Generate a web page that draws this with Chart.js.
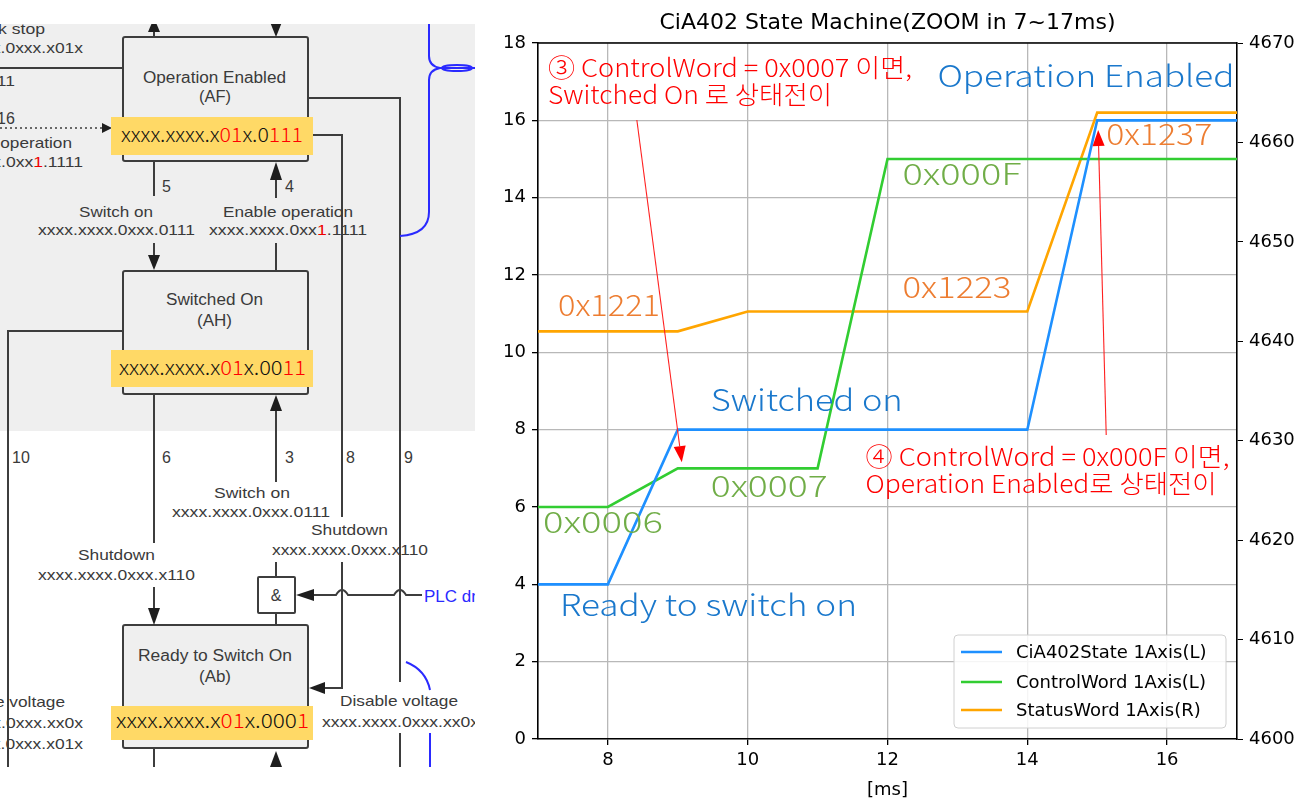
<!DOCTYPE html>
<html><head><meta charset="utf-8">
<script src="https://cdn.jsdelivr.net/npm/chart.js@4.4.1/dist/chart.umd.min.js"></script>
<style>
html,body{margin:0;padding:0;background:#fff;width:1302px;height:807px;overflow:hidden;}
#diagram{position:absolute;left:0;top:0;}
#wrap{position:absolute;left:480px;top:0;width:822px;height:807px;}
</style></head><body>
<svg id="diagram" width="480" height="807" font-family="'Liberation Sans', Arial, sans-serif">
<defs><clipPath id="clp"><rect x="0" y="24" width="475" height="743"/></clipPath></defs>
<g clip-path="url(#clp)">
<rect x="0" y="24" width="475" height="407" fill="#efefef"/>
<g stroke="#3d3d3d" stroke-width="2" fill="none">
 <rect x="123" y="37" width="185" height="124" rx="2"/>
 <rect x="123" y="271" width="185" height="123" rx="2"/>
 <rect x="123" y="625" width="185" height="123" rx="2" fill="#efefef"/>
 <line x1="154" y1="24" x2="154" y2="37"/>
 <line x1="276" y1="24" x2="276" y2="30"/>
 <line x1="0" y1="68" x2="123" y2="68"/>
 <line x1="154" y1="161" x2="154" y2="196"/>
 <line x1="154" y1="243" x2="154" y2="258"/>
 <line x1="276" y1="178" x2="276" y2="198"/>
 <line x1="276" y1="243" x2="276" y2="271"/>
 <polyline points="308,98 400,98 400,682"/>
 <line x1="400" y1="733" x2="400" y2="767"/>
 <polyline points="313,135 342,135 342,517"/>
 <polyline points="342,562 342,688 322,688"/>
 <polyline points="123,331 8,331 8,767"/>
 <line x1="154" y1="394" x2="154" y2="543"/>
 <line x1="154" y1="587" x2="154" y2="610"/>
 <line x1="276" y1="408" x2="276" y2="482"/>
 <line x1="276" y1="562" x2="276" y2="577"/>
 <rect x="258" y="577" width="37" height="36" rx="1"/>
 <line x1="276" y1="613" x2="276" y2="625"/>
 <path d="M312 595 H336 Q342 585 348 595 H394 Q400 585 406 595 H422"/>
 <line x1="154" y1="748" x2="154" y2="767"/>
 <line x1="0" y1="128" x2="102" y2="128" stroke-dasharray="2 3" stroke-width="1.5"/>
</g>
<g fill="#1e1e1e">
 <polygon points="154,18 148,32 160,32"/>
 <polygon points="270,22 282,22 276,37"/>
 <polygon points="276,162 270,180 282,180"/>
 <polygon points="148,255 160,255 154,270"/>
 <polygon points="148,608 160,608 154,625"/>
 <polygon points="276,395 270,411 282,411"/>
 <polygon points="296,595 314,589 314,601"/>
 <polygon points="309,688 325,682 325,694"/>
 <polygon points="276,751 270,767 282,767"/>
 <polygon points="112,128 102,123 102,133"/>
</g>
<g stroke="#2a2aff" stroke-width="2" fill="none">
 <path d="M429 24 V56 Q429 66 440 68 Q429 70 429 80 V212 Q429 234 400 236"/>
 <ellipse cx="457" cy="68" rx="15" ry="3"/>
 <line x1="440" y1="68" x2="475" y2="68"/>
 <path d="M406 662 Q426 670 430 690"/>
 <line x1="430" y1="733" x2="430" y2="767"/>
</g>
<g fill="#3a3a3a" font-size="15">
 <text x="-2" y="34" textLength="47" lengthAdjust="spacingAndGlyphs">k stop</text>
 <text x="-74" y="53" textLength="157" lengthAdjust="spacingAndGlyphs">xxxx.xxxx.0xxx.x01x</text>
 <text x="-142" y="86" textLength="157" lengthAdjust="spacingAndGlyphs">xxxx.xxxx.0xxx.0111</text>
 <text x="-3" y="124" font-size="16">16</text>
 <text x="-58" y="148" textLength="130" lengthAdjust="spacingAndGlyphs">Enable operation</text>
 <text x="-74" y="167" textLength="157" lengthAdjust="spacingAndGlyphs">xxxx.xxxx.0xx<tspan fill="#e00">1</tspan>.1111</text>
 <text x="79" y="217" textLength="74" lengthAdjust="spacingAndGlyphs">Switch on</text>
 <text x="38" y="235" textLength="157" lengthAdjust="spacingAndGlyphs">xxxx.xxxx.0xxx.0111</text>
 <text x="223" y="217" textLength="130" lengthAdjust="spacingAndGlyphs">Enable operation</text>
 <text x="209" y="235" textLength="158" lengthAdjust="spacingAndGlyphs">xxxx.xxxx.0xx<tspan fill="#e00">1</tspan>.1111</text>
 <text x="162" y="192" font-size="16">5</text>
 <text x="285" y="192" font-size="16">4</text>
 <text x="12" y="463" font-size="16">10</text>
 <text x="162" y="463" font-size="16">6</text>
 <text x="285" y="463" font-size="16">3</text>
 <text x="346" y="463" font-size="16">8</text>
 <text x="404" y="463" font-size="16">9</text>
 <text x="214" y="498" textLength="76" lengthAdjust="spacingAndGlyphs">Switch on</text>
 <text x="172" y="517" textLength="158" lengthAdjust="spacingAndGlyphs">xxxx.xxxx.0xxx.0111</text>
 <text x="78" y="560" textLength="77" lengthAdjust="spacingAndGlyphs">Shutdown</text>
 <text x="38" y="580" textLength="157" lengthAdjust="spacingAndGlyphs">xxxx.xxxx.0xxx.x110</text>
 <text x="311" y="535" textLength="77" lengthAdjust="spacingAndGlyphs">Shutdown</text>
 <text x="272" y="555" textLength="156" lengthAdjust="spacingAndGlyphs">xxxx.xxxx.0xxx.x110</text>
 <text x="276" y="601" text-anchor="middle" font-size="16">&amp;</text>
 <text x="-53" y="707" textLength="118" lengthAdjust="spacingAndGlyphs">Disable voltage</text>
 <text x="-74" y="728" textLength="157" lengthAdjust="spacingAndGlyphs">xxxx.xxxx.0xxx.xx0x</text>
 <text x="-74" y="749" textLength="157" lengthAdjust="spacingAndGlyphs">xxxx.xxxx.0xxx.x01x</text>
 <text x="340" y="706" textLength="118" lengthAdjust="spacingAndGlyphs">Disable voltage</text>
 <text x="322" y="727" textLength="157" lengthAdjust="spacingAndGlyphs">xxxx.xxxx.0xxx.xx0x</text>
 <text x="143" y="83" font-size="16" textLength="143" lengthAdjust="spacingAndGlyphs">Operation Enabled</text>
 <text x="199" y="102" font-size="16" textLength="32" lengthAdjust="spacingAndGlyphs">(AF)</text>
 <text x="166" y="305" font-size="16" textLength="97" lengthAdjust="spacingAndGlyphs">Switched On</text>
 <text x="197" y="326" font-size="16" textLength="35" lengthAdjust="spacingAndGlyphs">(AH)</text>
 <text x="138" y="661" font-size="16" textLength="154" lengthAdjust="spacingAndGlyphs">Ready to Switch On</text>
 <text x="199" y="682" font-size="16" textLength="32" lengthAdjust="spacingAndGlyphs">(Ab)</text>
</g>
<text x="424" y="602" fill="#2a2aff" font-size="17">PLC dr</text>
<g>
 <rect x="111" y="117" width="202" height="38" fill="#FFD966"/>
 <rect x="111" y="350" width="202" height="37" fill="#FFD966"/>
 <rect x="111" y="706" width="202" height="34" fill="#FFD966"/>
</g>
<g font-family="'Noto Sans CJK KR', 'Noto Sans', sans-serif" font-weight="300" font-size="20" fill="#111">
 <text x="121" y="142" textLength="182" lengthAdjust="spacingAndGlyphs">xxxx.xxxx.x<tspan fill="#f00">01</tspan>x.0<tspan fill="#f00">111</tspan></text>
 <text x="119" y="375" textLength="187" lengthAdjust="spacingAndGlyphs">xxxx.xxxx.x<tspan fill="#f00">01</tspan>x.00<tspan fill="#f00">11</tspan></text>
 <text x="116" y="728" textLength="193" lengthAdjust="spacingAndGlyphs">xxxx.xxxx.x<tspan fill="#f00">01</tspan>x.000<tspan fill="#f00">1</tspan></text>
</g>
</g>
</svg>
<div id="wrap"><canvas id="c" width="822" height="807"></canvas></div>
<script>
// ---- data ----
const timesMs = [7, 8, 9, 10, 11, 12, 13, 14, 15, 16, 17];
const cia402State = [4, 4, 8, 8, 8, 8, 8, 8, 16, 16, 16];
const controlWord = [6, 6, 7, 7, 7, 15, 15, 15, 15, 15, 15];
const statusWord = [4641, 4641, 4641, 4643, 4643, 4643, 4643, 4643, 4663, 4663, 4663];
const seriesLabels = ['CiA402State 1Axis(L)', 'ControlWord 1Axis(L)', 'StatusWord 1Axis(R)'];
const xTicks = [8, 10, 12, 14, 16];
const yLeftTicks = [0, 2, 4, 6, 8, 10, 12, 14, 16, 18];
const yRightTicks = [4600, 4610, 4620, 4630, 4640, 4650, 4660, 4670];
const titleText = 'CiA402 State Machine(ZOOM in 7~17ms)';
const xLabel = '[ms]';

// ---- text annotations (data coordinates on x / left y) ----
const notes = [
  {text: '③ ControlWord = 0x0007 이면,', x: 7.143, y: 17.12, w: 364, size: 25, color: '#ff0000'},
  {text: 'Switched On 로 상태전이', x: 7.143, y: 16.42, w: 284, size: 25, color: '#ff0000'},
  {text: 'Operation Enabled', x: 12.714, y: 16.86, w: 297, size: 30, color: '#1a78cc'},
  {text: '0x1237', x: 15.129, y: 15.36, w: 106, size: 30, color: '#ED7D31'},
  {text: '0x000F', x: 12.214, y: 14.33, w: 119, size: 30, color: '#70AD47'},
  {text: '0x1223', x: 12.214, y: 11.40, w: 109, size: 30, color: '#ED7D31'},
  {text: '0x1221', x: 7.286, y: 10.94, w: 102, size: 30, color: '#ED7D31'},
  {text: 'Switched on', x: 9.471, y: 8.48, w: 192, size: 30, color: '#1a78cc'},
  {text: '④ ControlWord = 0x000F 이면,', x: 11.686, y: 7.06, w: 364, size: 25, color: '#ff0000'},
  {text: 'Operation Enabled로 상태전이', x: 11.686, y: 6.36, w: 351, size: 25, color: '#ff0000'},
  {text: '0x0007', x: 9.471, y: 6.26, w: 117, size: 30, color: '#70AD47'},
  {text: '0x0006', x: 7.071, y: 5.33, w: 120, size: 30, color: '#70AD47'},
  {text: 'Ready to switch on', x: 7.314, y: 3.18, w: 297, size: 30, color: '#1a78cc'}
];
const arrows = [
  {from: [8.414, 16.01], to: [9.057, 7.16]},
  {from: [15.129, 7.86], to: [15.014, 15.75]}
];

const colors = ['#1E90FF', '#32CD32', '#FFA500'];
const FONT = "'DejaVu Sans'";

function fitText(ctx, t, x, y, w, font, color) {
  ctx.save();
  ctx.font = font;
  const nat = ctx.measureText(t).width;
  ctx.translate(x, y);
  ctx.scale(w / nat, 1);
  ctx.fillStyle = color;
  ctx.textAlign = 'left';
  ctx.textBaseline = 'alphabetic';
  ctx.fillText(t, 0, 0);
  ctx.restore();
}

const extras = {
  id: 'extras',
  afterDraw(chart) {
    const ctx = chart.ctx, a = chart.chartArea, xs = chart.scales.x, ys = chart.scales.y;
    ctx.save();
    ctx.strokeStyle = '#000'; ctx.lineWidth = 1.6;
    ctx.beginPath(); ctx.moveTo(a.left, a.top); ctx.lineTo(a.right, a.top); ctx.stroke();
    ctx.fillStyle = '#000'; ctx.font = '22px ' + FONT; ctx.textAlign = 'center'; ctx.textBaseline = 'alphabetic';
    ctx.fillText(titleText, (a.left + a.right) / 2, 29);
    notes.forEach(n => fitText(ctx, n.text, xs.getPixelForValue(n.x), ys.getPixelForValue(n.y), n.w,
      '300 ' + n.size + "px 'Noto Sans CJK KR'", n.color));
    arrows.forEach(ar => {
      const x1 = xs.getPixelForValue(ar.from[0]), y1 = ys.getPixelForValue(ar.from[1]);
      const x2 = xs.getPixelForValue(ar.to[0]), y2 = ys.getPixelForValue(ar.to[1]);
      const ang = Math.atan2(y2 - y1, x2 - x1), hl = 16, hw = 6;
      ctx.strokeStyle = '#ff2020'; ctx.fillStyle = '#ff0000'; ctx.lineWidth = 1.1;
      ctx.beginPath(); ctx.moveTo(x1, y1);
      ctx.lineTo(x2 - hl * Math.cos(ang), y2 - hl * Math.sin(ang)); ctx.stroke();
      ctx.beginPath(); ctx.moveTo(x2, y2);
      ctx.lineTo(x2 - hl * Math.cos(ang) - hw * Math.sin(ang), y2 - hl * Math.sin(ang) + hw * Math.cos(ang));
      ctx.lineTo(x2 - hl * Math.cos(ang) + hw * Math.sin(ang), y2 - hl * Math.sin(ang) - hw * Math.cos(ang));
      ctx.closePath(); ctx.fill();
    });
    const lx = a.right - 283, ly = a.bottom - 104, lw = 272, lh = 93;
    ctx.fillStyle = 'rgba(255,255,255,0.85)'; ctx.strokeStyle = '#d0d0d0'; ctx.lineWidth = 1;
    ctx.beginPath(); ctx.roundRect(lx, ly, lw, lh, 4); ctx.fill(); ctx.stroke();
    ctx.font = '18px ' + FONT; ctx.textAlign = 'left'; ctx.textBaseline = 'middle';
    const rows = [17, 47, 75];
    chart.data.datasets.forEach((d, i) => {
      const yy = ly + rows[i];
      ctx.strokeStyle = d.borderColor; ctx.lineWidth = 2.6;
      ctx.beginPath(); ctx.moveTo(lx + 7, yy); ctx.lineTo(lx + 48, yy); ctx.stroke();
      ctx.fillStyle = '#000'; ctx.fillText(d.label, lx + 62, yy + 1);
    });
    ctx.restore();
  }
};

const tickFont = {family: FONT, size: 18};
const plain = v => String(v);
new Chart(document.getElementById('c'), {
  type: 'line',
  data: {
    datasets: [
      {label: seriesLabels[0], data: timesMs.map((t, i) => ({x: t, y: cia402State[i]})), borderColor: colors[0], yAxisID: 'y'},
      {label: seriesLabels[1], data: timesMs.map((t, i) => ({x: t, y: controlWord[i]})), borderColor: colors[1], yAxisID: 'y'},
      {label: seriesLabels[2], data: timesMs.map((t, i) => ({x: t, y: statusWord[i]})), borderColor: colors[2], yAxisID: 'y2'}
    ]
  },
  options: {
    responsive: false, animation: false, events: [],
    layout: {padding: {top: 43, left: 0, right: 0, bottom: 0}},
    plugins: {legend: {display: false}, title: {display: false}, tooltip: {enabled: false}},
    elements: {point: {radius: 0}, line: {borderWidth: 2.6, tension: 0}},
    scales: {
      x: {
        type: 'linear', min: 7, max: 17,
        afterBuildTicks: s => { s.ticks = xTicks.map(v => ({value: v})); },
        afterFit: s => { s.height = 68; },
        grid: {color: '#b8b8b8', lineWidth: 1.3, tickColor: '#000', tickLength: 6},
        border: {color: '#000', width: 1.6},
        ticks: {color: '#000', font: tickFont, padding: 5, maxRotation: 0, callback: plain},
        title: {display: true, text: xLabel, color: '#000', font: tickFont, padding: {top: 2, bottom: 6}}
      },
      y: {
        position: 'left', min: 0, max: 18,
        afterBuildTicks: s => { s.ticks = yLeftTicks.map(v => ({value: v})); },
        afterFit: s => { s.width = 58; },
        grid: {color: '#b8b8b8', lineWidth: 1.3, tickColor: '#000', tickLength: 6},
        border: {color: '#000', width: 1.6},
        ticks: {color: '#000', font: tickFont, padding: 6, callback: plain}
      },
      y2: {
        position: 'right', min: 4600, max: 4670,
        afterBuildTicks: s => { s.ticks = yRightTicks.map(v => ({value: v})); },
        afterFit: s => { s.width = 65; },
        grid: {drawOnChartArea: false, tickColor: '#000', tickLength: 6},
        border: {color: '#000', width: 1.6},
        ticks: {color: '#000', font: tickFont, padding: 6, callback: plain}
      }
    }
  },
  plugins: [extras]
});
</script>
</body></html>
